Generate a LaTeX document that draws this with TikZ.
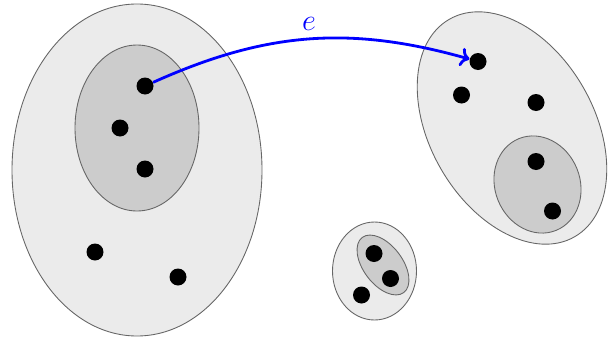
\documentclass[tikz,border=0pt]{standalone}
\usetikzlibrary{arrows.meta}

\begin{document}
\begin{tikzpicture}[
    outerset/.style={fill=black!8, draw=black!60, line width=0.5pt},
    innerset/.style={fill=black!20, draw=black!60, line width=0.5pt},
    elem/.style={circle, fill=black, inner sep=0pt, minimum size=0.34cm},
    edgearrow/.style={->, blue, line width=1.6pt}
]

    % Cornice
    \useasboundingbox (0,0) rectangle (12.32,6.86);

    % Insieme a sinistra
    \filldraw[outerset] (2.74,3.46) ellipse [x radius=2.50, y radius=3.32];
    \filldraw[innerset] (2.74,4.30) ellipse [x radius=1.24, y radius=1.66];

    % Insieme a destra
    \filldraw[outerset] (10.24,4.30) circle [x radius=2.51, y radius=1.64, rotate=-60];
    \filldraw[innerset] (10.75,3.17) circle [x radius=0.99, y radius=0.85, rotate=-68];

    % Insieme in basso
    \filldraw[outerset] (7.49,1.44) ellipse [x radius=0.84, y radius=0.98];
    \filldraw[innerset] (7.66,1.56) circle [x radius=0.69, y radius=0.39, rotate=-53];

    % Elementi
    \node[elem] (l1) at (2.90,5.14) {};
    \node[elem] (l2) at (2.40,4.30) {};
    \node[elem] (l3) at (2.90,3.48) {};
    \node[elem] (l4) at (1.90,1.82) {};
    \node[elem] (l5) at (3.56,1.32) {};

    \node[elem] (r1) at (9.56,5.63) {};
    \node[elem] (r2) at (9.23,4.96) {};
    \node[elem] (r3) at (10.72,4.81) {};
    \node[elem] (r4) at (10.72,3.63) {};
    \node[elem] (r5) at (11.05,2.64) {};

    \node[elem] (s1) at (7.48,1.79) {};
    \node[elem] (s2) at (7.81,1.29) {};
    \node[elem] (s3) at (7.23,0.96) {};

    % Freccia e
    \draw[edgearrow] (l1) to[bend left=20]
        node[midway, above=1pt] {\LARGE $e$} (r1);

\end{tikzpicture}
\end{document}
